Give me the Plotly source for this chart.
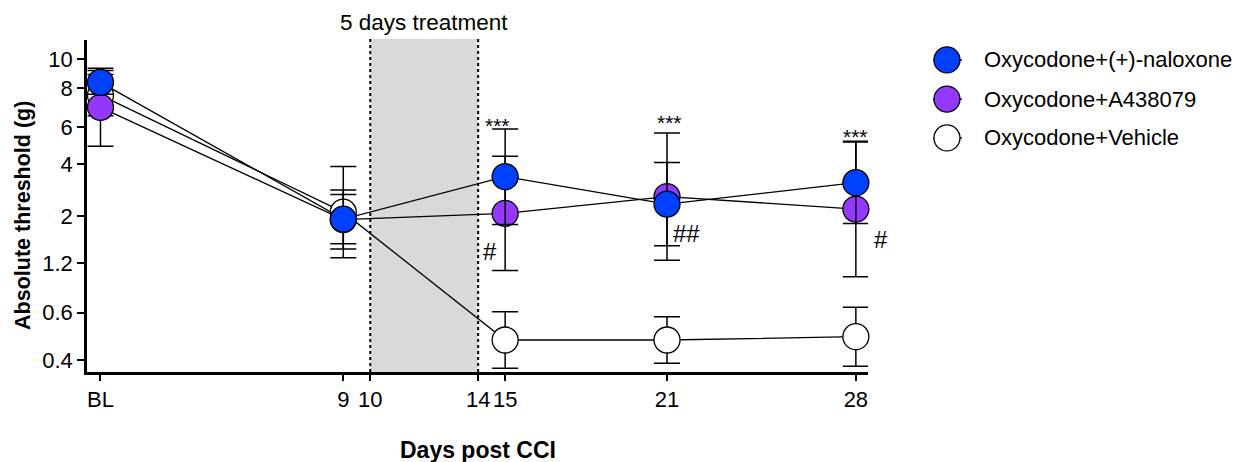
import plotly.graph_objects as go

# ---- data (y values in von Frey filament log units; labelled in grams) ----
days = [0, 9, 15, 21, 28]
x_tickvals = [0, 9, 10, 14, 15, 21, 28]
x_ticktext = ["BL", "9", "10", "14", "15", "21", "28"]
y_tickvals = [3.61, 3.84, 4.08, 4.31, 4.56, 4.74, 4.93, 5.07]
y_ticktext = ["0.4", "0.6", "1.2", "2", "4", "6", "8", "10"]

series_names = ["Oxycodone+(+)-naloxone", "Oxycodone+A438079", "Oxycodone+Vehicle"]
naloxone = [4.958, 4.294, 4.500, 4.367, 4.471]
naloxone_err = [0.058, 0.119, 0.232, 0.202, 0.198]
a438079 = [4.837, 4.292, 4.322, 4.403, 4.343]
a438079_err = [0.189, 0.143, 0.277, 0.309, 0.329]
vehicle = [4.896, 4.328, 3.707, 3.707, 3.723]
vehicle_err = [0.100, 0.221, 0.137, 0.113, 0.143]
colors = ["#0040FF", "#9438FF", "#FFFFFF"]

treatment_start, treatment_end = 10, 14
treatment_label = "5 days treatment"

# significance marks: (day, text, y, xshift)
sig_marks = [(15, "***", 4.75, -8), (21, "***", 4.765, 2), (28, "***", 4.697, 0),
             (15, "#", 4.139, -15), (21, "##", 4.2265, 19), (28, "#", 4.197, 25)]

FONT = "Liberation Sans, Arial, sans-serif"

fig = go.Figure()
order = [(2, vehicle, vehicle_err), (1, a438079, a438079_err), (0, naloxone, naloxone_err)]
for idx, vals, errs in order:
    fig.add_trace(go.Scatter(
        x=days, y=vals, name=series_names[idx], mode="lines+markers",
        line=dict(color="black", width=1.3),
        marker=dict(size=26, color=colors[idx], line=dict(color="black", width=1.3)),
        error_y=dict(type="data", array=errs, visible=True, color="black",
                     thickness=1.5, width=13),
        cliponaxis=False, showlegend=False,
    ))

shapes = [
    dict(type="rect", xref="x", yref="paper", x0=treatment_start, x1=treatment_end,
         y0=0, y1=1.003, fillcolor="#D9D9D9", line=dict(width=0), layer="below"),
    dict(type="line", xref="x", yref="paper", x0=treatment_start, x1=treatment_start,
         y0=0, y1=1.006, line=dict(color="black", width=2, dash="dot"), layer="below"),
    dict(type="line", xref="x", yref="paper", x0=treatment_end, x1=treatment_end,
         y0=0, y1=1.006, line=dict(color="black", width=2, dash="dot"), layer="below"),
]

annotations = [
    dict(text=treatment_label, x=(treatment_start + treatment_end) / 2, xref="x",
         y=1.054, yref="paper", showarrow=False, font=dict(size=22.5, color="black"),
         xanchor="center", yanchor="middle"),
    dict(text="<b>Absolute threshold (g)</b>", x=-0.082, y=0.473, xref="paper", yref="paper",
         textangle=-90, showarrow=False, font=dict(size=21.5, color="black"),
         xanchor="center", yanchor="middle"),
    dict(text="<b>Days post CCI</b>", x=0.5006, y=-0.235, xref="paper", yref="paper",
         showarrow=False, font=dict(size=23, color="black"), xanchor="center", yanchor="middle"),
]
for d, t, yv, xs in sig_marks:
    annotations.append(dict(text=t, x=d, y=yv, xref="x", yref="y", xshift=xs,
                            showarrow=False, font=dict(size=24 if "#" in t else 21, color="black"),
                            xanchor="center", yanchor="middle"))

# custom legend (large symbols like the original)
leg_y = [0.940, 0.822, 0.705]
leg_x = 1.1011
for i in range(3):
    shapes.append(dict(type="line", xref="paper", yref="paper", xsizemode="pixel",
                       ysizemode="pixel", xanchor=leg_x, yanchor=leg_y[i],
                       x0=-14, x1=15, y0=0, y1=0, line=dict(color="black", width=1.3)))
    shapes.append(dict(type="circle", xref="paper", yref="paper", xsizemode="pixel",
                       ysizemode="pixel", xanchor=leg_x, yanchor=leg_y[i],
                       x0=-13, x1=13, y0=-13, y1=13, fillcolor=colors[i],
                       line=dict(color="black", width=1.3)))
    annotations.append(dict(text=series_names[i], x=1.146, y=leg_y[i], xref="paper",
                            yref="paper", showarrow=False, xanchor="left", yanchor="middle",
                            font=dict(size=22, color="black")))

fig.update_layout(
    width=1242, height=462,
    margin=dict(l=87, r=374, t=40, b=90),
    paper_bgcolor="white", plot_bgcolor="white",
    font=dict(family=FONT, size=22, color="black"),
    shapes=shapes, annotations=annotations, showlegend=False,
)
fig.update_xaxes(range=[-0.5, 28.45], tickmode="array", tickvals=x_tickvals, ticktext=x_ticktext,
                 tickangle=0, showline=True, linecolor="black", linewidth=2.5,
                 ticks="outside", ticklen=6, tickwidth=2, tickcolor="black",
                 showgrid=False, zeroline=False, tickfont=dict(size=22))
fig.update_yaxes(range=[3.5517, 5.1637], tickmode="array", tickvals=y_tickvals, ticktext=y_ticktext,
                 showline=True, linecolor="black", linewidth=2.5,
                 ticks="outside", ticklen=7, tickwidth=2, tickcolor="black",
                 showgrid=False, zeroline=False, tickfont=dict(size=22))

fig.write_html("out.html", config={"displayModeBar": False})

# remove the browser's default page margin so the figure sits at the top-left corner
with open("out.html", "r", encoding="utf-8") as f:
    html = f.read()
html = html.replace("<head>", "<head><style>html,body{margin:0;padding:0;overflow:hidden;}</style>", 1)
with open("out.html", "w", encoding="utf-8") as f:
    f.write(html)
